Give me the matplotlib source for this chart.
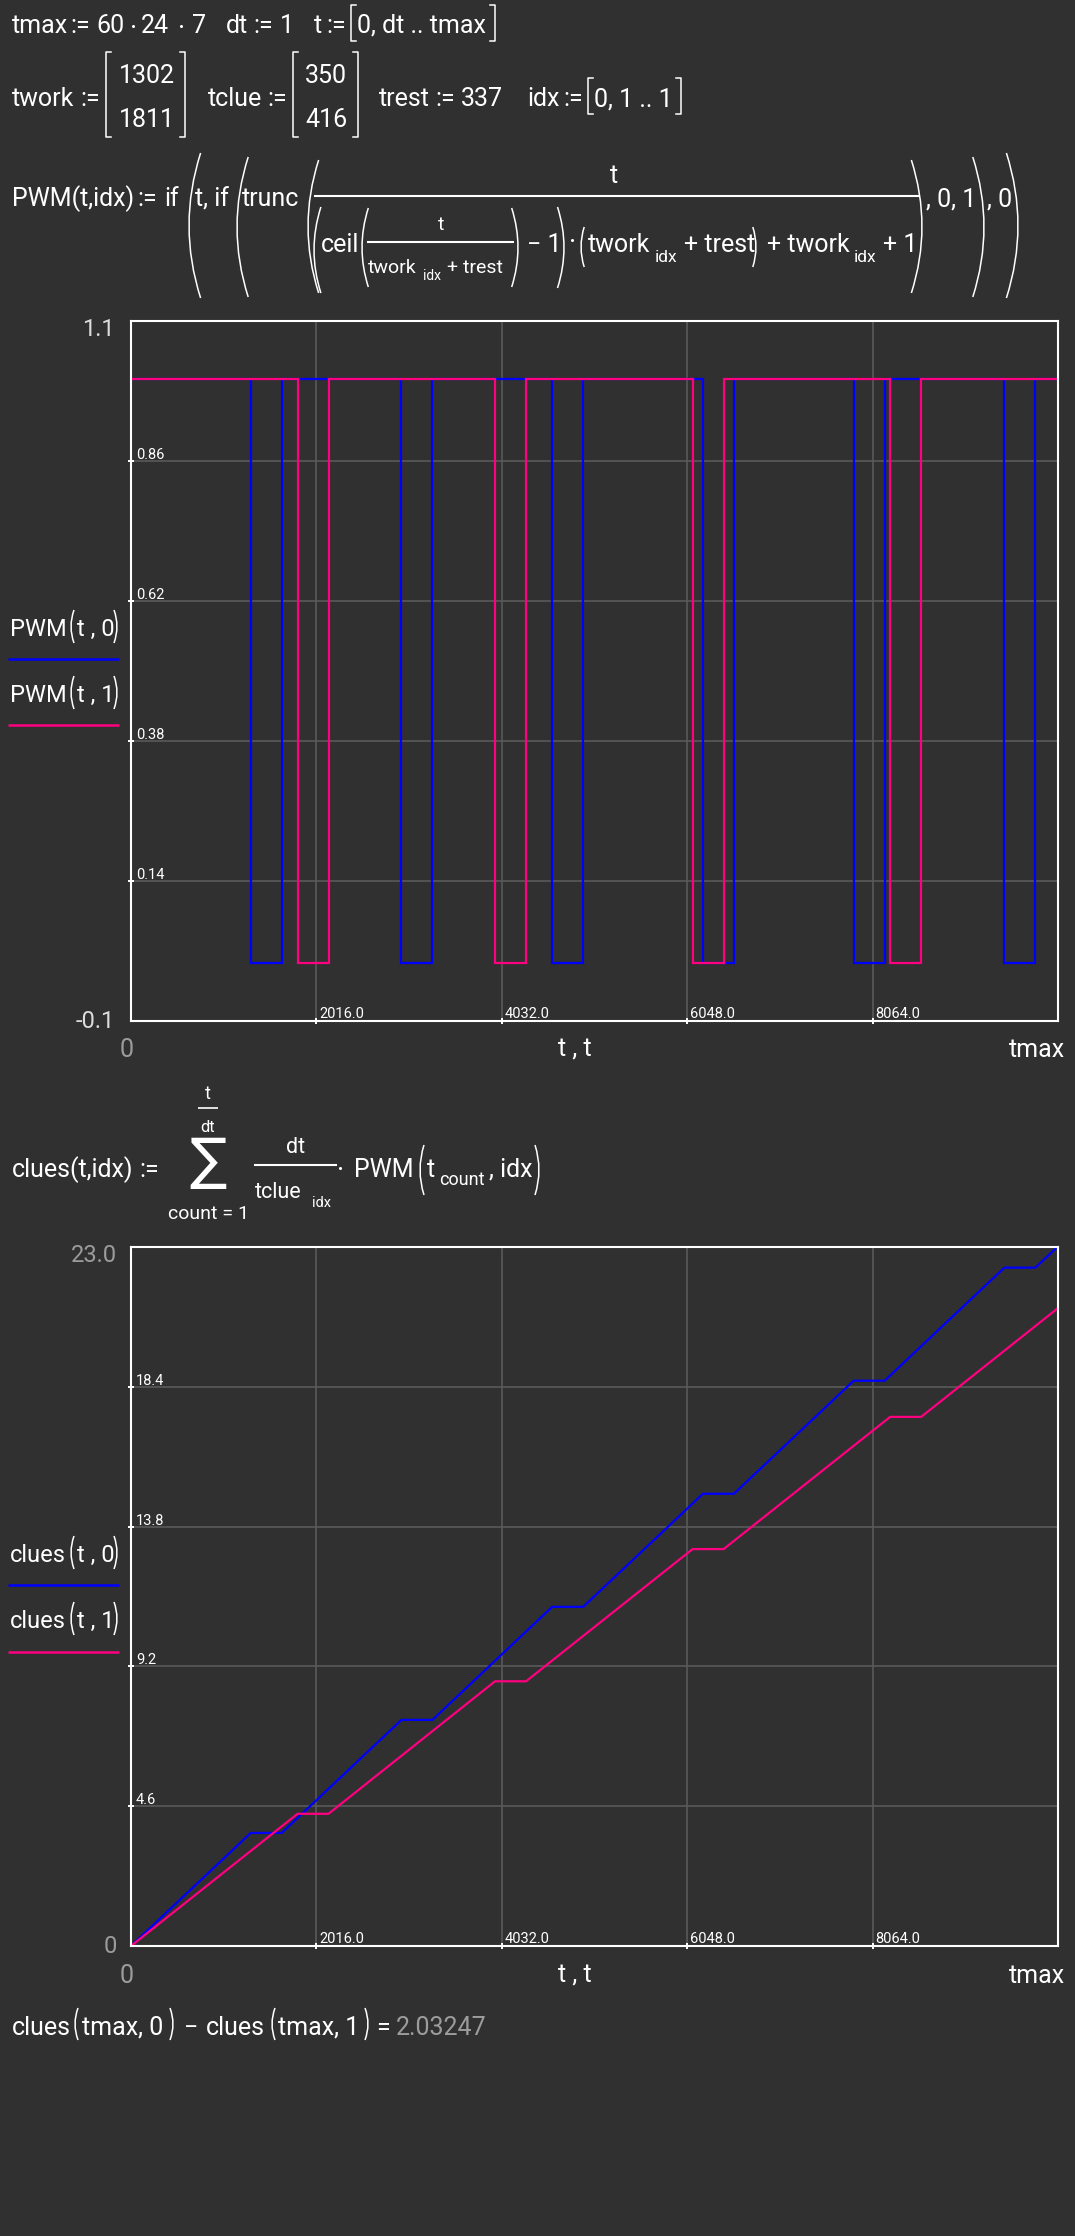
import matplotlib
matplotlib.use("Agg")
import matplotlib.pyplot as plt
from matplotlib.path import Path
from matplotlib.patches import PathPatch

tmax = 10080
x_grid = [2016, 4032, 6048, 8064]
x_grid_labels = ["2016.0", "4032.0", "6048.0", "8064.0"]

pwm_ylim = (-0.1, 1.1)
pwm_grid = [0.14, 0.38, 0.62, 0.86]
pwm_grid_labels = ["0.14", "0.38", "0.62", "0.86"]

# moments where PWM(t, idx) drops to 0 and where it comes back to 1
pwm0_off = [1302, 2941, 4580, 6219, 7858, 9497]
pwm0_on = [1639, 3278, 4917, 6556, 8195, 9834]
pwm1_off = [1811, 3959, 6107, 8255]
pwm1_on = [2148, 4296, 6444, 8592]

clues_ylim = (0, 23.0)
clues_grid = [4.6, 9.2, 13.8, 18.4]
clues_grid_labels = ["4.6", "9.2", "13.8", "18.4"]

# corners of the accumulated clues(t, idx) curves
clues0_t = [0, 1302, 1639, 2941, 3278, 4580, 4917, 6219, 6556, 7858, 8195, 9497, 9834, 10080]
clues0_v = [0, 3.72, 3.72, 7.44, 7.44, 11.16, 11.16, 14.88, 14.88, 18.60, 18.60, 22.32, 22.32, 23.02]
clues1_t = [0, 1811, 2148, 3959, 4296, 6107, 6444, 8255, 8592, 10080]
clues1_v = [0, 4.35, 4.35, 8.71, 8.71, 13.06, 13.06, 17.41, 17.41, 20.99]

clues_diff = "2.03247"

# ── Style ────────────────────────────────────────────────────────────────────
BG = "#303030"
FG = "#ffffff"
GRID = "#5a5a5a"
GRAY = "#9c9c9c"
LIGHT = "#dcdcdc"
BLUE = "#0000ff"
PINK = "#ff0080"
FONT = ["Roboto", "DejaVu Sans"]
W, H = 1075, 2236

fig = plt.figure(figsize=(W / 100, H / 100), dpi=100, facecolor=BG)
bg = fig.add_axes([0, 0, 1, 1])
bg.set_xlim(0, W)
bg.set_ylim(H, 0)
bg.axis("off")


def T(x, y, s, size=18, color=FG, ha="left", **kw):
    return bg.text(x, y, s, fontsize=size, color=color, ha=ha, va="baseline",
                   family=FONT, **kw)


def paren(x, y0, y1, right=False, lw=1.1):
    w = max(3.0, 0.08 * (y1 - y0))
    s = -1 if right else 1
    verts = [(x + s * w, y0), (x - s * w, (y0 + y1) / 2), (x + s * w, y1)]
    p = Path(verts, [Path.MOVETO, Path.CURVE3, Path.CURVE3])
    bg.add_patch(PathPatch(p, fill=False, ec=FG, lw=lw))


def bracket(x, y0, y1, right=False):
    s = -1 if right else 1
    bg.plot([x + s * 5, x, x, x + s * 5], [y0, y0, y1, y1], color=FG, lw=1.1)


def hbar(x0, x1, y, lw=1.5):
    bg.plot([x0, x1], [y, y], color=FG, lw=lw, solid_capstyle="butt")


def dot(x, y):
    bg.plot([x], [y], "o", ms=2.2, color=FG, mew=0)


# ── Worksheet definitions ────────────────────────────────────────────────────
T(12, 33, "tmax")
T(70, 33, ":=")
T(96, 33, "60")
dot(133, 26)
T(141, 33, "24")
dot(181, 26)
T(192, 33, "7")
T(226, 33, "dt")
T(253, 33, ":=")
T(280, 33, "1")
T(314, 33, "t")
T(326, 33, ":=")
bracket(351, 5, 41)
T(357, 33, "0, dt .. tmax")
bracket(495, 5, 41, right=True)

T(12, 106, "twork")
T(80, 106, ":=")
bracket(106, 52, 137)
T(147, 83, "1302", ha="center")
T(147, 127, "1811", ha="center")
bracket(185, 52, 137, right=True)
T(208, 106, "tclue")
T(267, 106, ":=")
bracket(293, 52, 137)
T(326, 83, "350", ha="center")
T(326, 127, "416", ha="center")
bracket(358, 52, 137, right=True)
T(379, 106, "trest")
T(435, 106, ":=")
T(461, 106, "337")
T(527, 106, "idx")
T(563, 106, ":=")
bracket(588, 78, 114)
T(594, 106, "0, 1 .. 1")
bracket(681, 78, 114, right=True)

# PWM(t,idx) := if(t, if(trunc(t / (...)), 0, 1), 0)
T(12, 206, "PWM(t,idx)")
T(137, 206, ":=")
T(164, 206, "if")
paren(189, 153, 298)
T(195, 206, "t, if")
paren(237, 157, 297)
T(242, 206, "trunc")
paren(308, 160, 293)
hbar(314, 919, 196)
T(614, 183, "t", ha="center")
paren(314, 207, 293)
T(321, 252, "ceil")
paren(362, 208, 287)
hbar(367, 514, 242)
T(441, 230, "t", 14, ha="center")
T(368, 273, "twork", 14)
T(423, 280, "idx", 10)
T(447, 273, "+ trest", 14)
paren(518, 208, 287, right=True)
T(527, 252, "− 1")
paren(564, 207, 288, right=True)
dot(572, 240)
paren(581, 227, 267)
T(588, 252, "twork")
T(655, 262, "idx", 12.5)
T(684, 252, "+ trest")
paren(756, 227, 267, right=True)
T(767, 252, "+ twork")
T(854, 262, "idx", 12.5)
T(883, 252, "+ 1")
paren(922, 160, 293, right=True)
T(926, 206, ", 0, 1")
paren(984, 157, 297, right=True)
T(987, 206, ", 0")
paren(1018, 153, 298, right=True)

# clues(t,idx) := sum_{count=1}^{t/dt} dt/tclue_idx * PWM(t_count, idx)
T(12, 1177, "clues(t,idx)")
T(139, 1177, ":=")
bg.text(208, 1163, "∑", fontsize=40, color=FG, ha="center", va="center",
        family=["DejaVu Sans"])
T(208, 1099, "t", 13, ha="center")
hbar(198, 218, 1108, lw=1.2)
T(208, 1132, "dt", 12, ha="center")
T(209, 1219, "count = 1", 14, ha="center")
hbar(254, 337, 1165)
T(296, 1153, "dt", 15.5, ha="center")
T(255, 1198, "tclue", 15.5)
T(312, 1207, "idx", 10.5)
dot(340, 1168)
T(354, 1177, "PWM")
paren(420, 1145, 1195)
T(427, 1177, "t")
T(439, 1185, "count", 13)
T(489, 1177, ", idx")
paren(539, 1145, 1195, right=True)

# clues(tmax,0) - clues(tmax,1) = ...
T(12, 2035, "clues")
paren(75, 2008, 2040)
T(82, 2035, "tmax, 0")
paren(173, 2008, 2040, right=True)
T(184, 2035, "−")
T(206, 2035, "clues")
paren(272, 2008, 2040)
T(278, 2035, "tmax, 1")
paren(368, 2008, 2040, right=True)
T(376, 2035, "=")
T(396, 2035, clues_diff, color=GRAY)


# ── Plots ────────────────────────────────────────────────────────────────────
def square_wave(t_off, t_on, t_end):
    xs, ys = [0], [1]
    for a, b in zip(t_off, t_on):
        xs += [a, a, b, b]
        ys += [1, 0, 0, 1]
    xs.append(t_end)
    ys.append(1)
    return xs, ys


def make_axes(top, bottom, ylim, ygrid, ylabels):
    left, right = 131, 1058
    ax = fig.add_axes([left / W, 1 - bottom / H, (right - left) / W, (bottom - top) / H])
    ax.set_facecolor(BG)
    ax.set_xlim(0, tmax)
    ax.set_ylim(*ylim)
    ax.set_xticks(x_grid)
    ax.set_yticks(ygrid)
    ax.tick_params(length=4, width=1.4, color=FG, direction="inout",
                   labelbottom=False, labelleft=False)
    ax.grid(True, color=GRID, lw=1.2)
    ax.set_axisbelow(True)
    for sp in ax.spines.values():
        sp.set_color(FG)
        sp.set_linewidth(1.5)
    for v, lbl in zip(ygrid, ylabels):
        ax.annotate(lbl, xy=(0, v), xytext=(5, 2), textcoords="offset pixels",
                    fontsize=10.5, color=FG, family=FONT, va="baseline")
    for v, lbl in zip(x_grid, x_grid_labels):
        ax.annotate(lbl, xy=(v, ylim[0]), xytext=(3, 3), textcoords="offset pixels",
                    fontsize=10.5, color=FG, family=FONT, va="baseline")
    return ax


ax1 = make_axes(321, 1021, pwm_ylim, pwm_grid, pwm_grid_labels)
x0, y0 = square_wave(pwm0_off, pwm0_on, tmax)
x1, y1 = square_wave(pwm1_off, pwm1_on, tmax)
ax1.plot(x0, y0, color=BLUE, lw=1.6, solid_joinstyle="miter")
ax1.plot(x1, y1, color=PINK, lw=1.6, solid_joinstyle="miter")

ax2 = make_axes(1247, 1946, clues_ylim, clues_grid, clues_grid_labels)
ax2.plot(clues0_t, clues0_v, color=BLUE, lw=1.6)
ax2.plot(clues1_t, clues1_v, color=PINK, lw=1.6)

# axis end labels and legends (drawn as worksheet text)
T(115, 336, "1.1", 17, color=LIGHT, ha="right")
T(115, 1028, "-0.1", 17, color=LIGHT, ha="right")
T(127, 1057, "0", 18, color=GRAY, ha="center")
T(575, 1057, "t , t", 18, ha="center")
T(1065, 1057, "tmax", 18, ha="right")

T(117, 1262, "23.0", 17, color=GRAY, ha="right")
T(117, 1953, "0", 17, color=GRAY, ha="right")
T(127, 1983, "0", 18, color=GRAY, ha="center")
T(575, 1983, "t , t", 18, ha="center")
T(1065, 1983, "tmax", 18, ha="right")

for name, base, color, line_y in [("PWM", 636, BLUE, 659), ("PWM", 702, PINK, 725),
                                  ("clues", 1562, BLUE, 1585), ("clues", 1628, PINK, 1652)]:
    arg = "0" if color == BLUE else "1"
    T(10, base, name, 17)
    paren(71, base - 26, base + 7)
    T(77, base, "t , " + arg, 17)
    paren(117, base - 26, base + 7, right=True)
    bg.plot([8, 119], [line_y, line_y], color=color, lw=1.8, solid_capstyle="butt")

fig.savefig("out.png", dpi=100, facecolor=BG)
